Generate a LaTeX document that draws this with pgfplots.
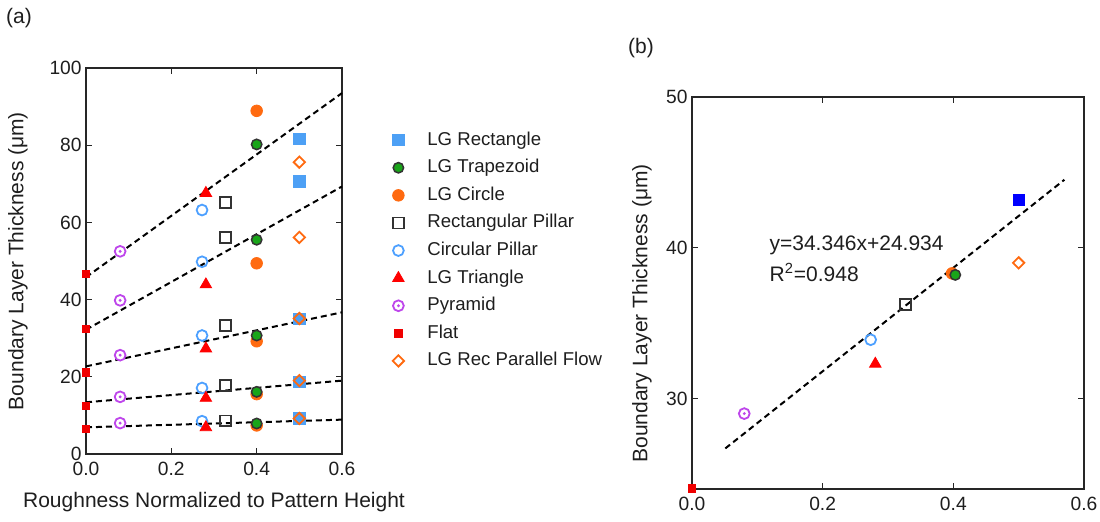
\documentclass[border=0pt]{standalone}
\usepackage{pgfplots}
\pgfplotsset{compat=1.18}
\usepackage{fontspec}
\setmainfont{Liberation Sans}

\definecolor{lgrect}{RGB}{77,160,245}
\definecolor{lgrectb}{RGB}{0,0,255}
\definecolor{lgtrap}{RGB}{25,165,25}
\definecolor{lgcirc}{RGB}{255,106,16}
\definecolor{rpill}{RGB}{51,51,51}
\definecolor{cpill}{RGB}{77,160,255}
\definecolor{lgtri}{RGB}{255,0,0}
\definecolor{pyr}{RGB}{190,70,235}
\definecolor{flat}{RGB}{240,0,0}
\definecolor{txt}{RGB}{30,30,30}

\pgfdeclareplotmark{circdot}{%
  \pgfpathcircle{\pgfpointorigin}{\pgfplotmarksize}%
  \pgfusepathqfillstroke
  \begin{pgfscope}%
  \pgfsetfillcolor{pyr}%
  \pgfpathcircle{\pgfpointorigin}{0.3\pgfplotmarksize}%
  \pgfusepathqfill
  \end{pgfscope}%
}

\pgfplotsset{
  mLGR/.style={only marks, mark=square*, mark size=2.8pt, color=lgrect},
  mLGRb/.style={only marks, mark=square*, mark size=2.8pt, color=lgrectb},
  mTrap/.style={only marks, mark=*, mark size=2.6pt, mark options={draw=black!80, fill=lgtrap, line width=0.75pt}},
  mCirc/.style={only marks, mark=*, mark size=2.9pt, color=lgcirc},
  mRP/.style={only marks, mark=square, mark size=2.7pt, color=rpill, mark options={line width=0.85pt}},
  mCP/.style={only marks, mark=o, mark size=2.7pt, color=cpill, mark options={line width=0.9pt}},
  mTri/.style={only marks, mark=triangle*, mark size=3.3pt, color=lgtri},
  mPyr/.style={only marks, mark=circdot, mark size=2.7pt, color=pyr, mark options={fill=white, line width=0.9pt}},
  mFlat/.style={only marks, mark=square*, mark size=1.9pt, color=flat},
  mPar/.style={only marks, mark=square, mark size=2pt, color=lgcirc, mark options={rotate=45, line width=0.9pt}},
  fitline/.style={black, line width=1pt, dash pattern=on 3pt off 2pt},
  axisstyle/.style={
    scale only axis, tick align=inside, major tick length=3pt,
    axis line style={line width=0.6pt, black!85},
    every tick/.style={line width=0.6pt, black!85},
    tick label style={font=\fontsize{9.6}{11}\selectfont, text=txt, inner sep=0.5pt},
    label style={font=\fontsize{10.5}{12}\selectfont, text=txt},
    /pgf/number format/assume math mode=true,
    clip=false,
    xticklabel style={/pgf/number format/.cd, fixed, fixed zerofill, precision=1, /tikz/yshift=-3.3pt},
    yticklabel style={xshift=-1.5pt},
  },
}

\begin{document}
\begin{tikzpicture}
\path[use as bounding box] (0,0) rectangle (550pt,-261pt);
\node[font=\fontsize{10.5}{12}\selectfont, text=txt] at (9.5pt,-9pt) {(a)};
\node[font=\fontsize{10.5}{12}\selectfont, text=txt] at (320.5pt,-24pt) {(b)};

% ---------------- (a) ----------------
\begin{axis}[axisstyle,
  at={(43pt,-227pt)}, anchor=south west, width=128pt, height=193pt,
  xmin=0, xmax=0.6, ymin=0, ymax=100,
  xtick={0,0.2,0.4,0.6}, ytick={0,20,40,60,80,100},
  xlabel={Roughness Normalized to Pattern Height},
  ylabel={Boundary Layer Thickness (μm)},
  xlabel style={at={(axis description cs:0.5,-0.124)}, anchor=center},
  ylabel style={at={(axis description cs:-0.266,0.5)}, anchor=center},
  legend image code/.code={\path[draw=none,fill=none] (-4pt,-4pt) rectangle (4pt,4pt); \draw[#1] plot coordinates {(0pt,0pt)};},
  legend style={at={(axis description cs:1.1875,0.840)}, anchor=north west, draw=none, fill=none,
    inner sep=0pt, column sep=10.5pt, row sep=3.8pt, font=\fontsize{9.3}{11}\selectfont,
    nodes={inner sep=0pt, text height=0.75em, text depth=0.25em, text=txt}},
  legend cell align=left,
]
\addplot[fitline, forget plot] coordinates {(0,45.8) (0.6,93.5)};
\addplot[fitline, forget plot] coordinates {(0,32.2) (0.6,69.3)};
\addplot[fitline, forget plot] coordinates {(0,22.7) (0.6,36.7)};
\addplot[fitline, forget plot] coordinates {(0,13.4) (0.6,19.0)};
\addplot[fitline, forget plot] coordinates {(0,6.9) (0.6,8.9)};

\addplot[mFlat, forget plot] coordinates {(0,46.7) (0,32.4) (0,21.2) (0,12.5) (0,6.5)};
\addplot[mPyr, forget plot] coordinates {(0.08,52.5) (0.08,39.8) (0.08,25.6) (0.08,14.8) (0.08,8.0)};
\addplot[mCP, forget plot] coordinates {(0.272,63.2) (0.272,49.8) (0.272,30.7) (0.272,17.1) (0.272,8.5)};
\addplot[mTri, forget plot] coordinates {(0.281,67.6) (0.281,43.9) (0.281,27.3) (0.281,14.5) (0.281,6.9)};
\addplot[mRP, forget plot] coordinates {(0.327,65.2) (0.327,56.1) (0.327,33.3) (0.327,17.8) (0.327,8.6)};
\addplot[mCirc, forget plot] coordinates {(0.40,88.9) (0.40,49.4) (0.40,29.2) (0.40,15.5) (0.40,7.4)};
\addplot[mTrap, forget plot] coordinates {(0.40,80.2) (0.40,55.5) (0.40,30.7) (0.40,16.1) (0.40,7.9)};
\addplot[mLGR, forget plot] coordinates {(0.50,81.6) (0.50,70.6) (0.50,35.1) (0.50,18.7) (0.50,9.2)};
\addplot[mPar, forget plot] coordinates {(0.50,75.6) (0.50,56.1) (0.50,35.1) (0.50,19.0) (0.50,9.2)};

\addlegendimage{mLGR}\addlegendentry{LG Rectangle}
\addlegendimage{mTrap}\addlegendentry{LG Trapezoid}
\addlegendimage{mCirc}\addlegendentry{LG Circle}
\addlegendimage{mRP}\addlegendentry{Rectangular Pillar}
\addlegendimage{mCP}\addlegendentry{Circular Pillar}
\addlegendimage{mTri}\addlegendentry{LG Triangle}
\addlegendimage{mPyr}\addlegendentry{Pyramid}
\addlegendimage{mFlat}\addlegendentry{Flat}
\addlegendimage{mPar}\addlegendentry{LG Rec Parallel Flow}
\end{axis}

% ---------------- (b) ----------------
\begin{axis}[axisstyle,
  at={(346pt,-244.5pt)}, anchor=south west, width=196pt, height=196pt,
  xmin=0, xmax=0.6, ymin=24, ymax=50,
  xtick={0,0.2,0.4,0.6}, ytick={30,40,50},
  ylabel={Boundary Layer Thickness (μm)},
  ylabel style={at={(axis description cs:-0.128,0.448)}, anchor=center},
]
\addplot[fitline] coordinates {(0.051,26.69) (0.57,44.51)};
\addplot[mFlat] coordinates {(0,24.04)};
\addplot[mPyr] coordinates {(0.080,29.0)};
\addplot[mCP] coordinates {(0.2735,33.9)};
\addplot[mTri] coordinates {(0.2806,32.3)};
\addplot[mRP] coordinates {(0.327,36.25)};
\addplot[mCirc] coordinates {(0.398,38.3)};
\addplot[mTrap] coordinates {(0.403,38.2)};
\addplot[mLGRb] coordinates {(0.5007,43.2)};
\addplot[mPar] coordinates {(0.50,39.0)};
\node[anchor=west, align=left, font=\fontsize{10.5}{15.5}\selectfont, text=txt] at (axis cs:0.108,39.3) {y=34.346x+24.934\\R\textsuperscript{2}=0.948};
\end{axis}
\end{tikzpicture}
\end{document}
